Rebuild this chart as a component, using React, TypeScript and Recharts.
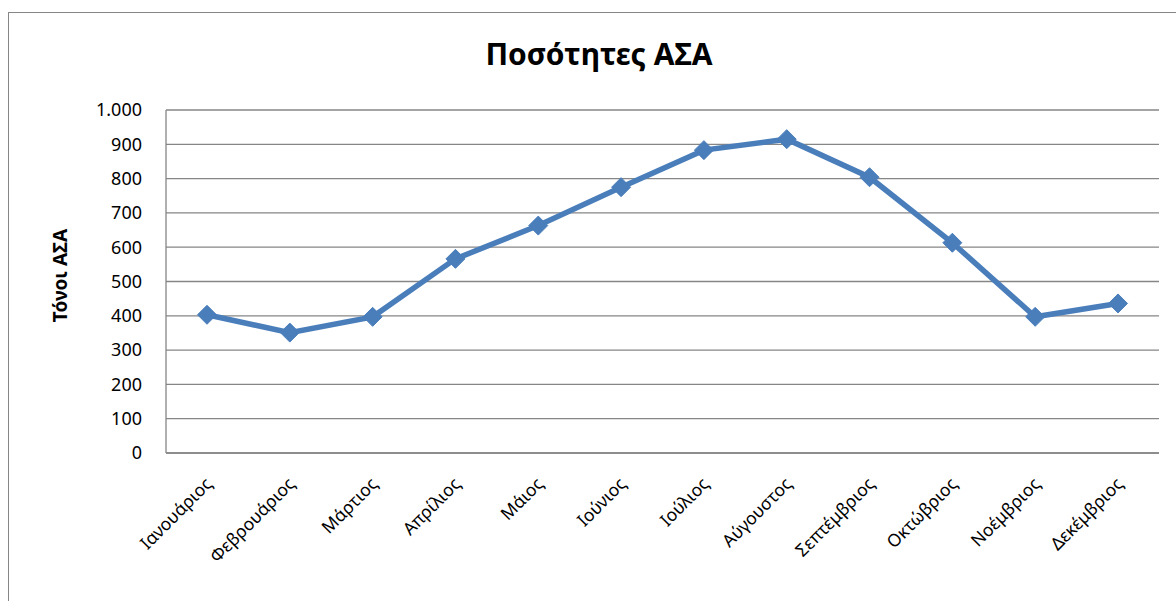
import React from 'react';
import { CartesianGrid, Label, Line, LineChart, XAxis, YAxis } from 'recharts';

const months = [
  'Ιανουάριος', 'Φεβρουάριος', 'Μάρτιος', 'Απρίλιος', 'Μάιος', 'Ιούνιος',
  'Ιούλιος', 'Αύγουστος', 'Σεπτέμβριος', 'Οκτώβριος', 'Νοέμβριος', 'Δεκέμβριος',
];
const tonnes = [403, 351, 397, 566, 663, 775, 883, 915, 804, 613, 397, 436];
const yTicks = [0, 100, 200, 300, 400, 500, 600, 700, 800, 900, 1000];

const title = 'Ποσότητες ΑΣΑ';
const yTitle = 'Τόνοι ΑΣΑ';

const data = months.map((month, i) => ({ month, value: tonnes[i] }));

const font = '"Noto Sans", sans-serif';
const blue = '#4a7ebb';
const gray = '#868686';

const fmt = (v: number) => v.toString().replace(/\B(?=(\d{3})+(?!\d))/g, '.');

// diamond marker like excel
const Diamond = (props: any) => {
  const { cx, cy } = props;
  if (cx == null || cy == null) return null;
  const r = 9.5;
  return (
    <polygon
      points={`${cx},${cy - r} ${cx + r},${cy} ${cx},${cy + r} ${cx - r},${cy}`}
      fill={blue}
      stroke={blue}
      strokeWidth={1}
    />
  );
};

const MonthTick = (props: any) => {
  const { x, y, payload } = props;
  return (
    <g transform={`translate(${x + 6},${y + 24})`}>
      <text
        x={0}
        y={0}
        transform="rotate(-45)"
        textAnchor="end"
        fill="#000"
        fontSize={17.5}
        fontFamily={font}
      >
        {payload.value}
      </text>
    </g>
  );
};

export default function App() {
  return (
    <div style={{ position: 'fixed', left: 0, top: 0, width: 1176, height: 601, overflow: 'hidden', background: '#fff' }}>
      <div
        style={{
          position: 'absolute',
          left: 8,
          top: 12,
          width: 1200,
          height: 620,
          border: `1px solid ${gray}`,
        }}
      />
      <div
        style={{
          position: 'absolute',
          left: 0,
          top: 34,
          width: 1198,
          textAlign: 'center',
          fontFamily: font,
          fontWeight: 700,
          fontSize: 30,
          lineHeight: '40px',
          color: '#000',
        }}
      >
        {title}
      </div>
      <div style={{ position: 'absolute', left: 0, top: 0 }}>
        <LineChart
          width={1176}
          height={601}
          data={data}
          margin={{ top: 110, right: 17, bottom: 48, left: 106 }}
        >
          <CartesianGrid vertical={false} stroke={gray} strokeWidth={1.3} />
          <XAxis
            dataKey="month"
            interval={0}
            height={100}
            padding={{ left: 41, right: 41 }}
            axisLine={{ stroke: gray, strokeWidth: 1.3 }}
            tickLine={false}
            tick={<MonthTick />}
          />
          <YAxis
            width={60}
            domain={[0, 1000]}
            ticks={yTicks}
            interval={0}
            axisLine={{ stroke: gray, strokeWidth: 1.3 }}
            tickLine={false}
            tickSize={0}
            tickMargin={24}
            tickFormatter={fmt}
            tick={{ fill: '#000', fontSize: 18, fontFamily: font }}
          >
            <Label
              content={(p: any) => {
                const vb = p.viewBox;
                const lx = vb.x - 39;
                const ly = vb.y + vb.height / 2 - 6;
                return (
                  <text
                    x={lx}
                    y={ly}
                    transform={`rotate(-90, ${lx}, ${ly})`}
                    textAnchor="middle"
                    fontSize={19}
                    fontWeight={700}
                    fontFamily={font}
                    fill="#000"
                  >
                    {yTitle}
                  </text>
                );
              }}
            />
          </YAxis>
          <Line
            type="linear"
            dataKey="value"
            stroke={blue}
            strokeWidth={5.5}
            dot={<Diamond />}
            activeDot={false}
            isAnimationActive={false}
          />
        </LineChart>
      </div>
    </div>
  );
}
